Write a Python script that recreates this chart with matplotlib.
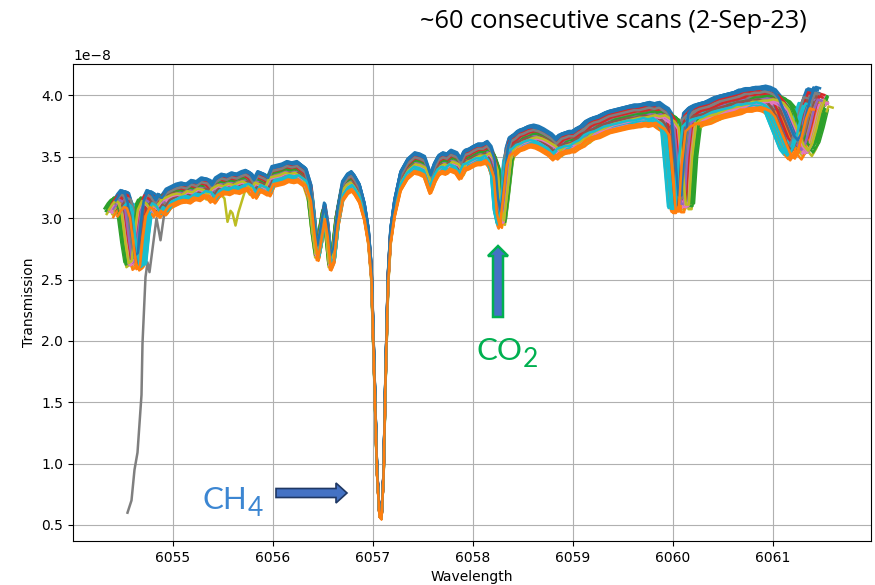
import matplotlib.pyplot as plt
import numpy as np
from matplotlib.patches import FancyArrow
from matplotlib.transforms import IdentityTransform

# reference scan (units of 1e-8)
base_wl = [6054.44, 6054.47, 6054.50, 6054.53, 6054.56, 6054.60, 6054.63,
           6054.66, 6054.69, 6054.72, 6054.76, 6054.80, 6054.84, 6054.87, 6054.90,
           6054.95, 6055.00, 6055.05, 6055.10, 6055.15, 6055.20, 6055.25, 6055.30,
           6055.36, 6055.40, 6055.44, 6055.50, 6055.55, 6055.60, 6055.65, 6055.70,
           6055.74, 6055.78, 6055.82, 6055.86, 6055.92, 6055.96, 6056.00, 6056.05,
           6056.10, 6056.15, 6056.20, 6056.25, 6056.28, 6056.33, 6056.38, 6056.42,
           6056.45, 6056.48, 6056.52, 6056.55, 6056.58, 6056.61, 6056.65, 6056.70,
           6056.75, 6056.79, 6056.82, 6056.87, 6056.92, 6056.96, 6056.99, 6057.02,
           6057.045, 6057.07, 6057.09, 6057.11, 6057.13, 6057.155, 6057.18, 6057.22,
           6057.28, 6057.35, 6057.42, 6057.47, 6057.52, 6057.55, 6057.58, 6057.62,
           6057.66, 6057.70, 6057.74, 6057.78, 6057.84, 6057.88, 6057.92, 6057.96,
           6058.00, 6058.05, 6058.10, 6058.14, 6058.18, 6058.22, 6058.25, 6058.28,
           6058.31, 6058.35, 6058.38, 6058.42, 6058.46, 6058.50, 6058.55, 6058.60,
           6058.65, 6058.70, 6058.74, 6058.78, 6058.83, 6058.88, 6058.92, 6058.95,
           6059.00, 6059.05, 6059.10, 6059.15, 6059.20, 6059.25, 6059.30, 6059.35,
           6059.40, 6059.45, 6059.50, 6059.55, 6059.60, 6059.65, 6059.70, 6059.75,
           6059.80, 6059.85, 6059.90, 6059.94, 6059.98, 6060.02, 6060.05, 6060.08,
           6060.11, 6060.15, 6060.20, 6060.25, 6060.30, 6060.35, 6060.40, 6060.45,
           6060.50, 6060.55, 6060.60, 6060.65, 6060.70, 6060.75, 6060.80, 6060.85,
           6060.90, 6060.95, 6061.00, 6061.05, 6061.10, 6061.15, 6061.20, 6061.24,
           6061.28, 6061.32, 6061.36, 6061.40, 6061.44]
base_tr = [3.08, 3.12, 3.15, 3.14, 3.06, 2.80, 2.64,
           2.66, 2.90, 3.08, 3.15, 3.13, 3.08, 3.12, 3.10,
           3.16, 3.18, 3.20, 3.21, 3.20, 3.23, 3.22, 3.25,
           3.24, 3.20, 3.25, 3.28, 3.27, 3.29, 3.28, 3.30,
           3.31, 3.29, 3.24, 3.30, 3.28, 3.26, 3.34, 3.35,
           3.36, 3.38, 3.37, 3.38, 3.36, 3.33, 3.20, 2.90,
           2.72, 2.85, 3.05, 2.90, 2.64, 2.70, 3.00, 3.22,
           3.28, 3.30, 3.27, 3.20, 3.05, 2.85, 2.55, 1.70,
           0.95, 0.58, 0.56, 0.90, 1.70, 2.50, 2.85, 3.08,
           3.30, 3.40, 3.45, 3.44, 3.42, 3.35, 3.28, 3.37,
           3.43, 3.45, 3.44, 3.47, 3.45, 3.40, 3.47, 3.48,
           3.50, 3.52, 3.52, 3.54, 3.50, 3.40, 3.10, 2.99,
           3.20, 3.50, 3.58, 3.60, 3.63, 3.64, 3.66, 3.67,
           3.66, 3.64, 3.62, 3.60, 3.56, 3.60, 3.61, 3.62,
           3.62, 3.65, 3.67, 3.71, 3.73, 3.74, 3.76, 3.78,
           3.79, 3.80, 3.81, 3.82, 3.83, 3.83, 3.84, 3.85,
           3.84, 3.85, 3.82, 3.80, 3.75, 3.40, 3.12, 3.12,
           3.50, 3.78, 3.82, 3.84, 3.85, 3.86, 3.88, 3.90,
           3.91, 3.92, 3.93, 3.94, 3.96, 3.96, 3.97, 3.97,
           3.98, 3.97, 3.95, 3.90, 3.80, 3.70, 3.60, 3.56,
           3.62, 3.74, 3.88, 3.97, 3.96]

# per-scan wavelength stretch (about the CH4 line) and intensity factor
scan_stretch = [-0.010, -0.020, 0.045, 0.010, 0.020, 0.000, 0.030, -0.020, 0.037, -0.030,
                -0.005, -0.015, 0.040, 0.005, 0.025, -0.008, 0.022, 0.012, 0.015, -0.028,
                0.002, -0.012, 0.035, -0.002, 0.018, 0.008, 0.028, -0.018, 0.020, -0.025,
                0.006, -0.022, 0.030, 0.014, -0.006, 0.004, 0.016, 0.000, 0.010, -0.032,
                -0.014, 0.012, 0.038, -0.010, 0.026, 0.002, 0.020, -0.020, 0.024, -0.022,
                0.008, -0.004, 0.033, 0.018, 0.012, -0.012, 0.026, 0.006, 0.028, -0.016,
                0.003, -0.006]
scan_scale = [1.022, 0.978, 1.000, 1.008, 0.990, 1.004, 0.995, 1.002, 0.985, 0.988,
              1.018, 0.975, 0.993, 1.010, 0.997, 1.000, 0.992, 1.006, 0.984, 0.990,
              1.024, 0.980, 1.004, 1.012, 0.998, 0.996, 1.003, 1.009, 0.990, 0.994,
              1.015, 0.982, 0.999, 1.006, 1.001, 0.994, 0.989, 1.012, 0.995, 0.992,
              1.020, 0.977, 1.002, 1.014, 0.993, 1.007, 0.991, 1.004, 0.996, 0.986,
              1.025, 0.979, 1.006, 1.011, 0.999, 0.997, 0.994, 1.013, 0.997, 0.991,
              1.021, 0.981]
center_wl = 6057.08
scan_end_wl = 6061.56

# odd scans: grey one starting low, olive one with a glitch near 6055.6
grey_scan = 7
grey_lead_wl = [6054.55, 6054.59, 6054.62, 6054.65, 6054.69, 6054.70, 6054.73, 6054.75,
                6054.77, 6054.80, 6054.84, 6054.88, 6054.92]
grey_lead_tr = [0.60, 0.70, 0.95, 1.09, 1.56, 1.98, 2.52, 2.64,
                2.56, 2.75, 3.00, 2.82, 3.05]
olive_scan = 8
olive_glitch_wl = [6055.50, 6055.52, 6055.55, 6055.58, 6055.60, 6055.63, 6055.66, 6055.69]
olive_glitch_tr = [3.18, 3.16, 2.97, 3.06, 3.04, 2.94, 3.05, 3.13]

fig = plt.figure(figsize=(8.75, 5.85), dpi=100)
ax = fig.add_axes([73 / 875, 44 / 585, 798 / 875, 477 / 585])

wl0 = np.array(base_wl)
tr0 = np.array(base_tr)
for i in range(len(scan_stretch)):
    wl = center_wl + (wl0 - center_wl) * (1 + scan_stretch[i])
    tr = tr0 * scan_scale[i]
    if i != olive_scan:
        keep = wl <= scan_end_wl
        wl, tr = wl[keep], tr[keep]
    if i == grey_scan:
        keep = wl > 6054.95
        wl = np.concatenate([grey_lead_wl, wl[keep]])
        tr = np.concatenate([grey_lead_tr, tr[keep]])
    if i == olive_scan:
        keep = (wl < 6055.49) | (wl > 6055.70)
        wl = np.concatenate([wl[keep], olive_glitch_wl])
        tr = np.concatenate([tr[keep], olive_glitch_tr])
        order = np.argsort(wl)
        wl, tr = wl[order], tr[order]
    ax.plot(wl, tr * 1e-8, lw=1.8)

ax.set_xlim(6054.005, 6061.985)
ax.set_xlabel("Wavelength")
ax.set_ylabel("Transmission")
ax.grid()

# slide annotations
fig.text(613 / 875, 1 - 22 / 585, "~60 consecutive scans (2-Sep-23)",
         family="Open Sans", fontsize=18.3, ha="center", va="center")
fig.text(203 / 875, 1 - 509 / 585, "CH", family="Lato", fontsize=22.5,
         color="#3C86D2", ha="left", va="baseline")
fig.text(248 / 875, 1 - 516 / 585, "4", family="Lato", fontsize=19,
         color="#3C86D2", ha="left", va="baseline")
fig.text(476 / 875, 1 - 360 / 585, "CO", family="Lato", fontsize=22.5,
         color="#00B050", ha="left", va="baseline")
fig.text(523 / 875, 1 - 367 / 585, "2", family="Lato", fontsize=19,
         color="#00B050", ha="left", va="baseline")

fig.patches.append(FancyArrow(276, 585 - 493, 71, 0, width=9, head_width=20,
                              head_length=11, length_includes_head=True,
                              fc="#4472C4", ec="#1F3864", lw=1.2,
                              transform=IdentityTransform(), figure=fig))
fig.patches.append(FancyArrow(498, 585 - 317, 0, 71, width=10, head_width=20,
                              head_length=10, length_includes_head=True,
                              fc="#4472C4", ec="#00B050", lw=1.8,
                              transform=IdentityTransform(), figure=fig))

fig.savefig("out.png", dpi=100)
